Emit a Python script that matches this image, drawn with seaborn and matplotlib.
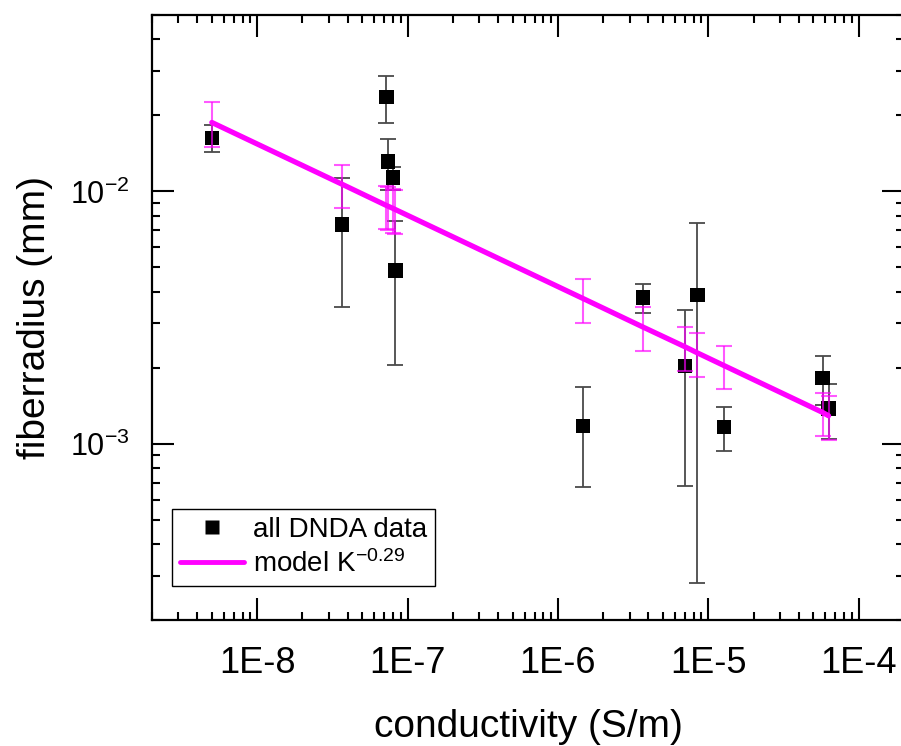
import numpy as np
import pandas as pd
import matplotlib
matplotlib.use("Agg")
import matplotlib.pyplot as plt
import seaborn as sns
from matplotlib.ticker import FixedLocator, FixedFormatter, LogLocator, LogFormatterMathtext, NullFormatter
from matplotlib.lines import Line2D

# ---- data ----
conductivity = [5.0e-9, 3.67e-8, 7.24e-8, 7.43e-8, 8.03e-8, 8.3e-8, 1.47e-6,
                3.67e-6, 7.0e-6, 8.45e-6, 1.27e-5, 5.75e-5, 6.3e-5]
fiberradius = [0.0163, 0.00738, 0.0237, 0.01315, 0.01133, 0.00485, 0.001175,
               0.0038, 0.00203, 0.00388, 0.001164, 0.00182, 0.00138]
fiberradius_err = [0.0020, 0.0039, 0.0050, 0.0030, 0.0012, 0.0028, 0.0005,
                   0.0005, 0.00135, 0.0036, 0.00023, 0.0004, 0.00034]
model_radius = [0.01875, 0.01067, 0.00879, 0.00873, 0.00855, 0.00847, 0.00376,
                0.0029, 0.00242, 0.00229, 0.00204, 0.00133, 0.00129]
model_err = [0.0038, 0.0021, 0.0017, 0.0017, 0.0017, 0.0017, 0.00074,
             0.00057, 0.00048, 0.00045, 0.0004, 0.00026, 0.00026]

xtick_values = [1e-8, 1e-7, 1e-6, 1e-5, 1e-4]
xtick_labels = ["1E-8", "1E-7", "1E-6", "1E-5", "1E-4"]
ytick_values = [1e-3, 1e-2]

series_labels = ["all DNDA data", "model K$^{-0.29}$"]

df = pd.DataFrame({"conductivity": conductivity, "fiberradius": fiberradius,
                   "err": fiberradius_err, "model": model_radius, "model_err": model_err})

sns.set_theme(style="ticks")
plt.rcParams["font.family"] = ["Liberation Sans", "DejaVu Sans"]
plt.rcParams["mathtext.fontset"] = "custom"
plt.rcParams["mathtext.rm"] = "Liberation Sans"
plt.rcParams["mathtext.it"] = "Liberation Sans:italic"
plt.rcParams["mathtext.bf"] = "Liberation Sans:bold"
plt.rcParams["axes.unicode_minus"] = False
for key in ["text.color", "axes.labelcolor", "xtick.color", "ytick.color",
            "axes.edgecolor", "xtick.labelcolor", "ytick.labelcolor"]:
    plt.rcParams[key] = "black"

fig = plt.figure(figsize=(9.01, 7.46), dpi=100)
W, H = 901, 746
ax = fig.add_axes([152 / W, 1 - 620 / H, (904 - 152) / W, (620 - 15) / H])
ax.set_xscale("log")
ax.set_yscale("log")

# black data error bars
ax.errorbar(df["conductivity"], df["fiberradius"], yerr=df["err"], fmt="none",
            ecolor="#4a4a4a", elinewidth=1.3, capsize=6, capthick=1.3, zorder=2)
# data squares
sns.scatterplot(data=df, x="conductivity", y="fiberradius", marker="s", s=110,
                color="black", edgecolor="none", linewidth=0, ax=ax, zorder=3,
                legend=False)
# model error bars
ax.errorbar(df["conductivity"], df["model"], yerr=df["model_err"], fmt="none",
            ecolor="#ff00ff", alpha=0.65, elinewidth=1.5, capsize=6, capthick=1.5,
            zorder=4)
# model line
sns.lineplot(data=df, x="conductivity", y="model", color="#ff00ff", linewidth=3.8,
             ax=ax, zorder=5, legend=False, sort=True, errorbar=None)

ax.set_xlim(2e-9, 2e-4)
ax.set_ylim(2e-4, 0.05)

ax.xaxis.set_major_locator(FixedLocator(xtick_values))
ax.xaxis.set_major_formatter(FixedFormatter(xtick_labels))
ax.xaxis.set_minor_locator(LogLocator(base=10, subs=np.arange(2, 10), numticks=20))
ax.xaxis.set_minor_formatter(NullFormatter())
ax.yaxis.set_major_locator(FixedLocator(ytick_values))
ax.yaxis.set_major_formatter(LogFormatterMathtext())
ax.yaxis.set_minor_locator(LogLocator(base=10, subs=np.arange(2, 10), numticks=20))
ax.yaxis.set_minor_formatter(NullFormatter())

ax.tick_params(which="both", direction="in", top=True, right=True, color="black",
               labelcolor="black", width=1.5)
ax.tick_params(which="major", length=16)
ax.tick_params(which="minor", length=6)
ax.tick_params(axis="x", which="major", labelsize=26, pad=19)
ax.tick_params(axis="y", which="major", labelsize=22, pad=16)
for sp in ax.spines.values():
    sp.set_visible(True)
    sp.set_linewidth(1.6)
    sp.set_color("black")

ax.set_xlabel("conductivity (S/m)", fontsize=28, labelpad=20, color="black")
ax.set_ylabel("fiberradius (mm)", fontsize=28, labelpad=12, color="black")

handles = [Line2D([], [], linestyle="none", marker="s", markersize=10,
                  markerfacecolor="black", markeredgecolor="none"),
           Line2D([], [], color="#ff00ff", linewidth=3.5)]
leg = ax.legend(handles, series_labels, loc="lower left",
                bbox_to_anchor=(20 / 752, 34 / 605), borderaxespad=0,
                fontsize=20, frameon=True, fancybox=False, edgecolor="black",
                framealpha=1, handlelength=2.3, handletextpad=0.3,
                borderpad=0.3, labelspacing=0.25)
leg.get_frame().set_linewidth(1.0)
for t in leg.get_texts():
    t.set_color("black")

fig.savefig("out.png", dpi=100)
